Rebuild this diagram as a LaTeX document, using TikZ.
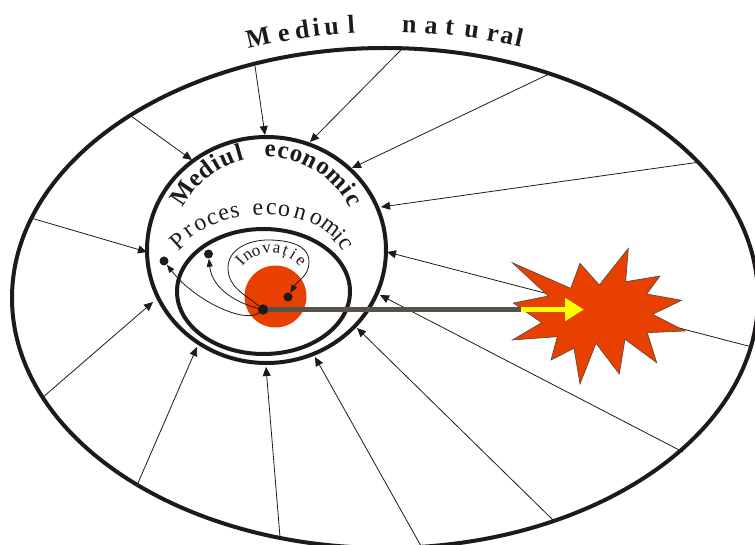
\documentclass[tikz,border=0pt]{standalone}
\usepackage{fontspec}
\setmainfont{Liberation Serif}
\usetikzlibrary{arrows.meta}
\definecolor{redorange}{HTML}{E84000}
\definecolor{grayline}{HTML}{56524A}
\definecolor{arrowyellow}{HTML}{FFFF00}
\definecolor{ink}{HTML}{1E1A17}
\begin{document}
\begin{tikzpicture}[x=1pt,y=1pt,
  thickline/.style={line width=4pt, draw=ink},
  radial/.style={line width=0.8pt, draw=ink, -{Triangle[length=9pt,width=8pt]}},
  innerarrow/.style={line width=0.8pt, draw=ink, -{Triangle[length=8pt,width=6pt]}},
  dotnode/.style={circle, fill=ink, inner sep=0pt, minimum size=#1},
  dotnode/.default=9pt,
  natfont/.style={font=\bfseries\fontsize{26}{26}\selectfont, inner sep=0pt, text=ink},
  ecofont/.style={font=\bfseries\fontsize{25}{25}\selectfont, inner sep=0pt, text=ink},
  procfont/.style={font=\fontsize{24}{24}\selectfont, inner sep=0pt, text=ink},
  inofont/.style={font=\fontsize{17}{17}\selectfont, inner sep=0pt, text=ink}]
\useasboundingbox (0,0) rectangle (755,-545);
\clip (0,0) rectangle (755,-545);
% outer ellipse: natural environment
\draw[thickline] (385,-298) ellipse [x radius=373, y radius=250];
% radial arrows
\foreach \n/\sx/\sy/\ex/\ey in {
  a/255/66/265/135, b/131/116/192/160, c/31/218/147/252, d/401/50/310/142,
  e/549/74/352/168, f/700/162/381/207, g/752/347/387/252, h/683/452/380/295,
  m/553/520/357/328, l/421/546/315/357, k/280/537/266/367, j/138/483/197/347,
  i/42/398/153/302}{
  \coordinate (s\n) at (\sx,-\sy);
  \coordinate (e\n) at (\ex,-\ey);
  \draw[radial] (s\n) -- (e\n);
}
% economic environment and process
\draw[thickline] (266.5,-250) ellipse [x radius=119.5, y radius=113];
\draw[thickline] (263.5,-291.5) ellipse [x radius=86.5, y radius=62.5];
% innovation core
\fill[redorange] (275.5,-296.5) circle [radius=31];
\node[dotnode=10pt] (cdot) at (263,-309.5) {};
\node[dotnode] (d2) at (288,-297) {};
\node[dotnode] (d3) at (208.5,-254) {};
\node[dotnode] (d4) at (164,-261) {};
% explosion
\filldraw[fill=redorange, draw=ink!80, line width=0.6pt]
 (628.3,-248.3) -- (625.7,-281.7) -- (660,-276) -- (646.7,-294) -- (681.7,-300.3)
 -- (652.7,-314.3) -- (685,-331) -- (647.3,-332.7) -- (656.7,-362.7) -- (625,-339.3)
 -- (619.3,-374) -- (596,-343.3) -- (580,-384) -- (574,-348.3) -- (551,-360)
 -- (557.3,-336.7) -- (512.3,-340) -- (541.7,-322.7) -- (513.3,-303) -- (548.3,-296)
 -- (512.3,-262.7) -- (570.7,-288.3) -- (580,-263.3) -- (599.3,-285) -- cycle;
\coordinate (gend) at (520.7,-309.5);
\coordinate (yend) at (584,-309.5);
\draw[grayline, line width=5pt] (cdot.center) -- (gend);
\draw[arrowyellow, line width=5pt, -{Triangle[length=19pt,width=22pt]}] (gend) -- (yend);
\node[dotnode=10pt] at (cdot) {};
% inner curves
\draw[innerarrow] (cdot) .. controls (245,-324) and (195,-301) .. (d4);
\draw[innerarrow] (cdot) .. controls (240,-304) and (212,-290) .. (d3);
\draw[innerarrow] (cdot) to[out=140,in=-90] (228,-268) to[out=90,in=180] (268,-240)
  to[out=0,in=90] (309,-262) to[out=-90,in=60] (d2);
% texts
\foreach \c/\a in {M/102.70, e/100.19, d/98.37, i/96.98, u/95.49, l/93.58,
  n/87.93, a/85.79, t/83.98, u/81.83, r/79.74, a/78.33, l/77.16}
  \path (388,-614) ++(\a:582) node[natfont, anchor=base, rotate=\a-90] {\c};
\foreach \c/\a in {M/146, e/135.45, d/127.28, i/120.13, u/112.98, l/105.83,
  e/87.83, c/80.35, o/72.53, n/64.02, o/55.51, m/45.30, i/36.45, c/29.99}
  \path (266.5,-250) ++(\a:93) node[ecofont, anchor=base, rotate=\a-90] {\c};
\foreach \c/\x/\y/\r in {P/178/241/42, r/189.5/232/36, o/200.5/225/29, c/212.5/219/22,
  e/224/215/16, s/235/212/11, e/258/210/3, c/271.5/209/-2, o/284/210.5/-8,
  n/300/213.5/-16, o/316/219/-26, m/330/227.5/-37, i/339.5/236/-48, c/345/244/-58}
  \node[procfont, rotate=\r] at (\x,-\y) {\c};
\foreach \c/\a in {I/136.9, n/124.3, o/111.3, v/96.1, a/81.9, ț/69.9, i/58.1, e/44.3}
  \path (271,-290) ++(\a:37) node[inofont, anchor=base, rotate=\a-90] {\c};
\end{tikzpicture}
\end{document}
